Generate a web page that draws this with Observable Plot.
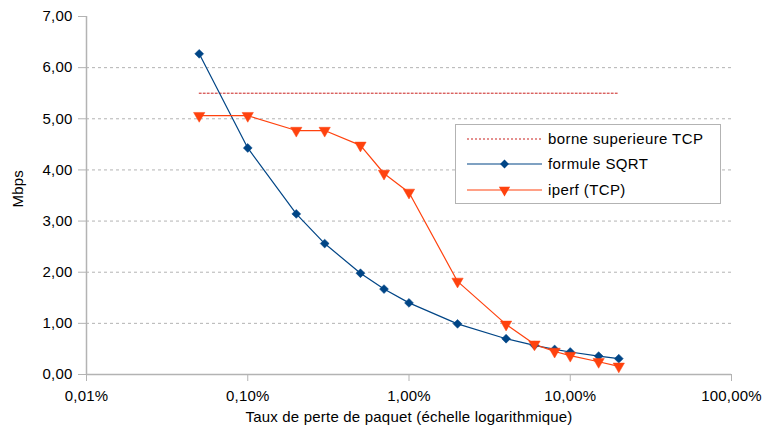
<!DOCTYPE html>
<html>
<head>
<meta charset="utf-8">
<script src="https://cdn.jsdelivr.net/npm/d3@7"></script>
<script src="https://cdn.jsdelivr.net/npm/@observablehq/plot@0.6"></script>
<style>
  html, body { margin: 0; padding: 0; background: #fff; }
  #wrap { position: relative; width: 767px; height: 430px; }
  #legend { position: absolute; left: 455px; top: 124px; }
  svg text { font-family: "Liberation Sans", Arial, sans-serif; }
</style>
</head>
<body>
<div id="wrap"></div>
<script>
// Packet loss rate (%)
const lossPct = [0.05, 0.1, 0.2, 0.3, 0.5, 0.7, 1, 2, 4, 6, 8, 10, 15, 20];
// formule SQRT (Mbps)
const sqrtVals = [6.27, 4.43, 3.14, 2.56, 1.98, 1.67, 1.40, 0.99, 0.70, 0.57, 0.49, 0.44, 0.36, 0.31];
// iperf (TCP) (Mbps)
const iperfVals = [5.06, 5.06, 4.77, 4.77, 4.48, 3.93, 3.56, 1.82, 0.98, 0.59, 0.45, 0.37, 0.25, 0.16];
// borne superieure TCP
const boundX = [0.05, 20];
const boundVal = [5.5, 5.5];

const xTicks = [0.01, 0.1, 1, 10, 100];
const yTicks = [0, 1, 2, 3, 4, 5, 6, 7];
const seriesNames = ["borne superieure TCP", "formule SQRT", "iperf (TCP)"];
const xTitle = "Taux de perte de paquet (échelle logarithmique)";
const yTitle = "Mbps";

const colors = {bound: "#c9211e", sqrt: "#004586", iperf: "#ff420e"};
const gray = "#b3b3b3";

const sqrtData = lossPct.map((x, i) => ({x, y: sqrtVals[i]}));
const iperfData = lossPct.map((x, i) => ({x, y: iperfVals[i]}));
const boundData = boundX.map((x, i) => ({x, y: boundVal[i]}));

const fmtY = d => d3.format(".2f")(d).replace(".", ",");
const fmtX = d => d.toFixed(2).replace(".", ",") + "%";

const rDiamond = 4, rTri = 4.2;

const chart = Plot.plot({
  width: 767,
  height: 430,
  marginLeft: 86,
  marginRight: 36,
  marginTop: 16,
  marginBottom: 56,
  style: {fontFamily: "Liberation Sans, Arial, sans-serif", fontSize: "15px", letterSpacing: "0.2px", color: "#000", background: "#fff"},
  x: {type: "log", domain: [0.01, 100]},
  y: {domain: [0, 7]},
  marks: [
    Plot.gridY(yTicks.filter(d => d > 0 && d < 7), {stroke: gray, strokeOpacity: 1, strokeDasharray: "3,3"}),
    Plot.axisY(yTicks, {tickSize: 8, tickPadding: 6, tickFormat: fmtY, stroke: gray, fill: "#000", label: null}),
    Plot.axisX(xTicks, {tickSize: 7, tickPadding: 9, tickFormat: fmtX, stroke: gray, fill: "#000", label: null}),
    Plot.ruleX([0.01], {stroke: gray, strokeWidth: 1.5}),
    Plot.ruleY([0], {stroke: gray, strokeWidth: 1.5}),
    Plot.line(boundData, {x: "x", y: "y", stroke: colors.bound, strokeWidth: 1, strokeDasharray: "2,2"}),
    Plot.line(sqrtData, {x: "x", y: "y", stroke: colors.sqrt, strokeWidth: 1.2}),
    Plot.line(iperfData, {x: "x", y: "y", stroke: colors.iperf, strokeWidth: 1.2}),
    Plot.dot(sqrtData, {x: "x", y: "y", symbol: "diamond2", r: rDiamond, fill: colors.sqrt, stroke: colors.sqrt, strokeWidth: 0.5}),
    Plot.dot(iperfData, {x: "x", y: "y", symbol: "triangle", rotate: 180, r: rTri, fill: colors.iperf, stroke: colors.iperf, strokeWidth: 0.5}),
    Plot.text([xTitle], {frameAnchor: "bottom", dy: 47.5, fill: "#000", fontSize: 15}),
    Plot.text([yTitle], {frameAnchor: "left", dx: -68, dy: 12, rotate: -90, fill: "#000", fontSize: 15})
  ]
});

const wrap = document.getElementById("wrap");
wrap.appendChild(chart);

// Legend box
const lw = 266, lh = 80;
const leg = d3.select(wrap).append("svg")
  .attr("id", "legend")
  .attr("width", lw).attr("height", lh);
leg.append("rect").attr("x", 0.5).attr("y", 0.5).attr("width", lw - 1).attr("height", lh - 1)
  .attr("fill", "#fff").attr("stroke", gray);
const rowsY = [15, 40, 66];
const keys = ["bound", "sqrt", "iperf"];
keys.forEach((k, i) => {
  const g = leg.append("g").attr("transform", `translate(0,${rowsY[i]})`);
  g.append("line").attr("x1", 12).attr("x2", 87).attr("y1", 0).attr("y2", 0)
    .attr("stroke", colors[k]).attr("stroke-width", k === "bound" ? 1 : 1.2)
    .attr("stroke-dasharray", k === "bound" ? "2,2" : null);
  if (k === "sqrt") {
    g.append("path").attr("d", d3.symbol(d3.symbolDiamond2, rDiamond * rDiamond * Math.PI)())
      .attr("transform", "translate(49.5,0)").attr("fill", colors.sqrt);
  }
  if (k === "iperf") {
    g.append("path").attr("d", d3.symbol(d3.symbolTriangle, rTri * rTri * Math.PI)())
      .attr("transform", "translate(49.5,0) rotate(180)").attr("fill", colors.iperf);
  }
  g.append("text").attr("x", 93).attr("y", 0).attr("dy", "0.35em")
    .attr("font-size", 15).attr("letter-spacing", "0.4px").attr("fill", "#000")
    .text(seriesNames[i]);
});
</script>
</body>
</html>
